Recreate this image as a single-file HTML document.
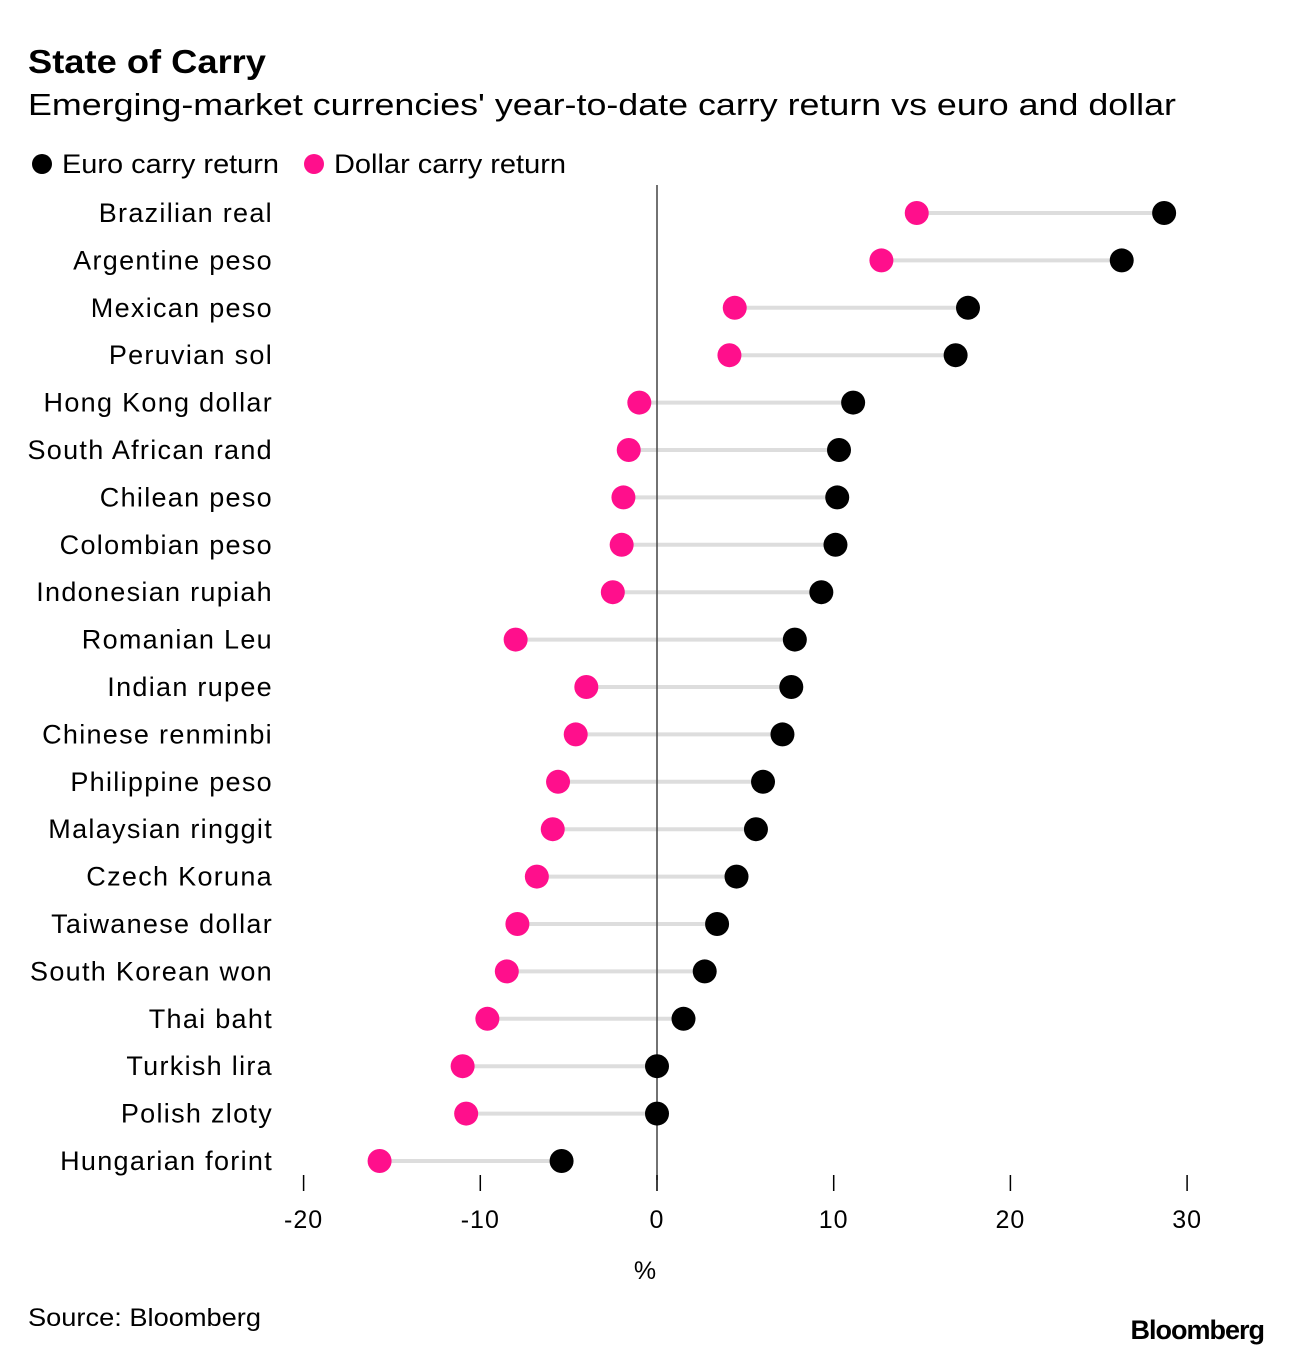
<!DOCTYPE html>
<html><head><meta charset="utf-8"><style>
body{margin:0;background:#fff;font-family:"Liberation Sans",Arial,sans-serif;}
svg text{font-family:"Liberation Sans",Arial,sans-serif;}
</style></head><body>
<svg id="chart" width="1292" height="1356" xmlns="http://www.w3.org/2000/svg">
<text x="28" y="73" font-size="33" font-weight="bold" fill="#000" textLength="238" lengthAdjust="spacingAndGlyphs">State of Carry</text>
<text x="28" y="115" font-size="31" fill="#000" textLength="1148" lengthAdjust="spacingAndGlyphs">Emerging-market currencies' year-to-date carry return vs euro and dollar</text>
<g>
<circle cx="42" cy="164" r="10" fill="#000"/>
<text x="62" y="173" font-size="27" textLength="217" lengthAdjust="spacingAndGlyphs">Euro carry return</text>
<circle cx="314" cy="164" r="10" fill="#ff0f8c"/>
<text x="334" y="173" font-size="27" textLength="232" lengthAdjust="spacingAndGlyphs">Dollar carry return</text>
</g>
<g id="plot"></g>
<text x="645" y="1279" font-size="25" text-anchor="middle">%</text>
<text x="28" y="1326" font-size="25" textLength="233" lengthAdjust="spacingAndGlyphs">Source: Bloomberg</text>
<text x="1264" y="1339" font-size="27" font-weight="bold" text-anchor="end" letter-spacing="-1">Bloomberg</text>
</svg>
<script>
const categories=["Brazilian real","Argentine peso","Mexican peso","Peruvian sol","Hong Kong dollar","South African rand","Chilean peso","Colombian peso","Indonesian rupiah","Romanian Leu","Indian rupee","Chinese renminbi","Philippine peso","Malaysian ringgit","Czech Koruna","Taiwanese dollar","South Korean won","Thai baht","Turkish lira","Polish zloty","Hungarian forint"];
const euroValues=[28.7,26.3,17.6,16.9,11.1,10.3,10.2,10.1,9.3,7.8,7.6,7.1,6.0,5.6,4.5,3.4,2.7,1.5,0,0,-5.4];
const dollarValues=[14.7,12.7,4.4,4.1,-1.0,-1.6,-1.9,-2.0,-2.5,-8.0,-4.0,-4.6,-5.6,-5.9,-6.8,-7.9,-8.5,-9.6,-11.0,-10.8,-15.7];
const tickValues=[-20,-10,0,10,20,30];
const tickLabels=["-20","-10","0","10","20","30"];
const NS="http://www.w3.org/2000/svg";
const g=document.getElementById('plot');
function xs(v){return 657+v*17.67;}
function ys(i){return 213+i*47.4;}
function mk(t,a){const e=document.createElementNS(NS,t);for(const k in a)e.setAttribute(k,a[k]);g.appendChild(e);return e;}
categories.forEach((c,i)=>{
  const l=mk('line',{x1:xs(Math.min(euroValues[i],dollarValues[i])),x2:xs(Math.max(euroValues[i],dollarValues[i])),y1:ys(i),y2:ys(i),stroke:'#ddd','stroke-width':4});
  
  
});
const z=mk('line',{x1:xs(0),x2:xs(0),y1:185,y2:1180,stroke:'#444','stroke-width':1.5});


categories.forEach((c,i)=>{
  const t=mk('text',{x:273,y:ys(i)+9,'font-size':27,'letter-spacing':1.3,'text-anchor':'end'});t.textContent=c;
  
  
  const d=mk('circle',{cx:xs(dollarValues[i]),cy:ys(i),r:12,fill:'#ff0f8c'});
  
  
  const e=mk('circle',{cx:xs(euroValues[i]),cy:ys(i),r:12,fill:'#000'});
  
  
});
tickValues.forEach((v,i)=>{
  const tk=mk('line',{x1:xs(v),x2:xs(v),y1:1175,y2:1191,stroke:'#000','stroke-width':1.5});
  
  
  const t=mk('text',{x:xs(v),y:1228,'font-size':25,'letter-spacing':1,'text-anchor':'middle'});t.textContent=tickLabels[i];
  
  
});
</script>
</body></html>
